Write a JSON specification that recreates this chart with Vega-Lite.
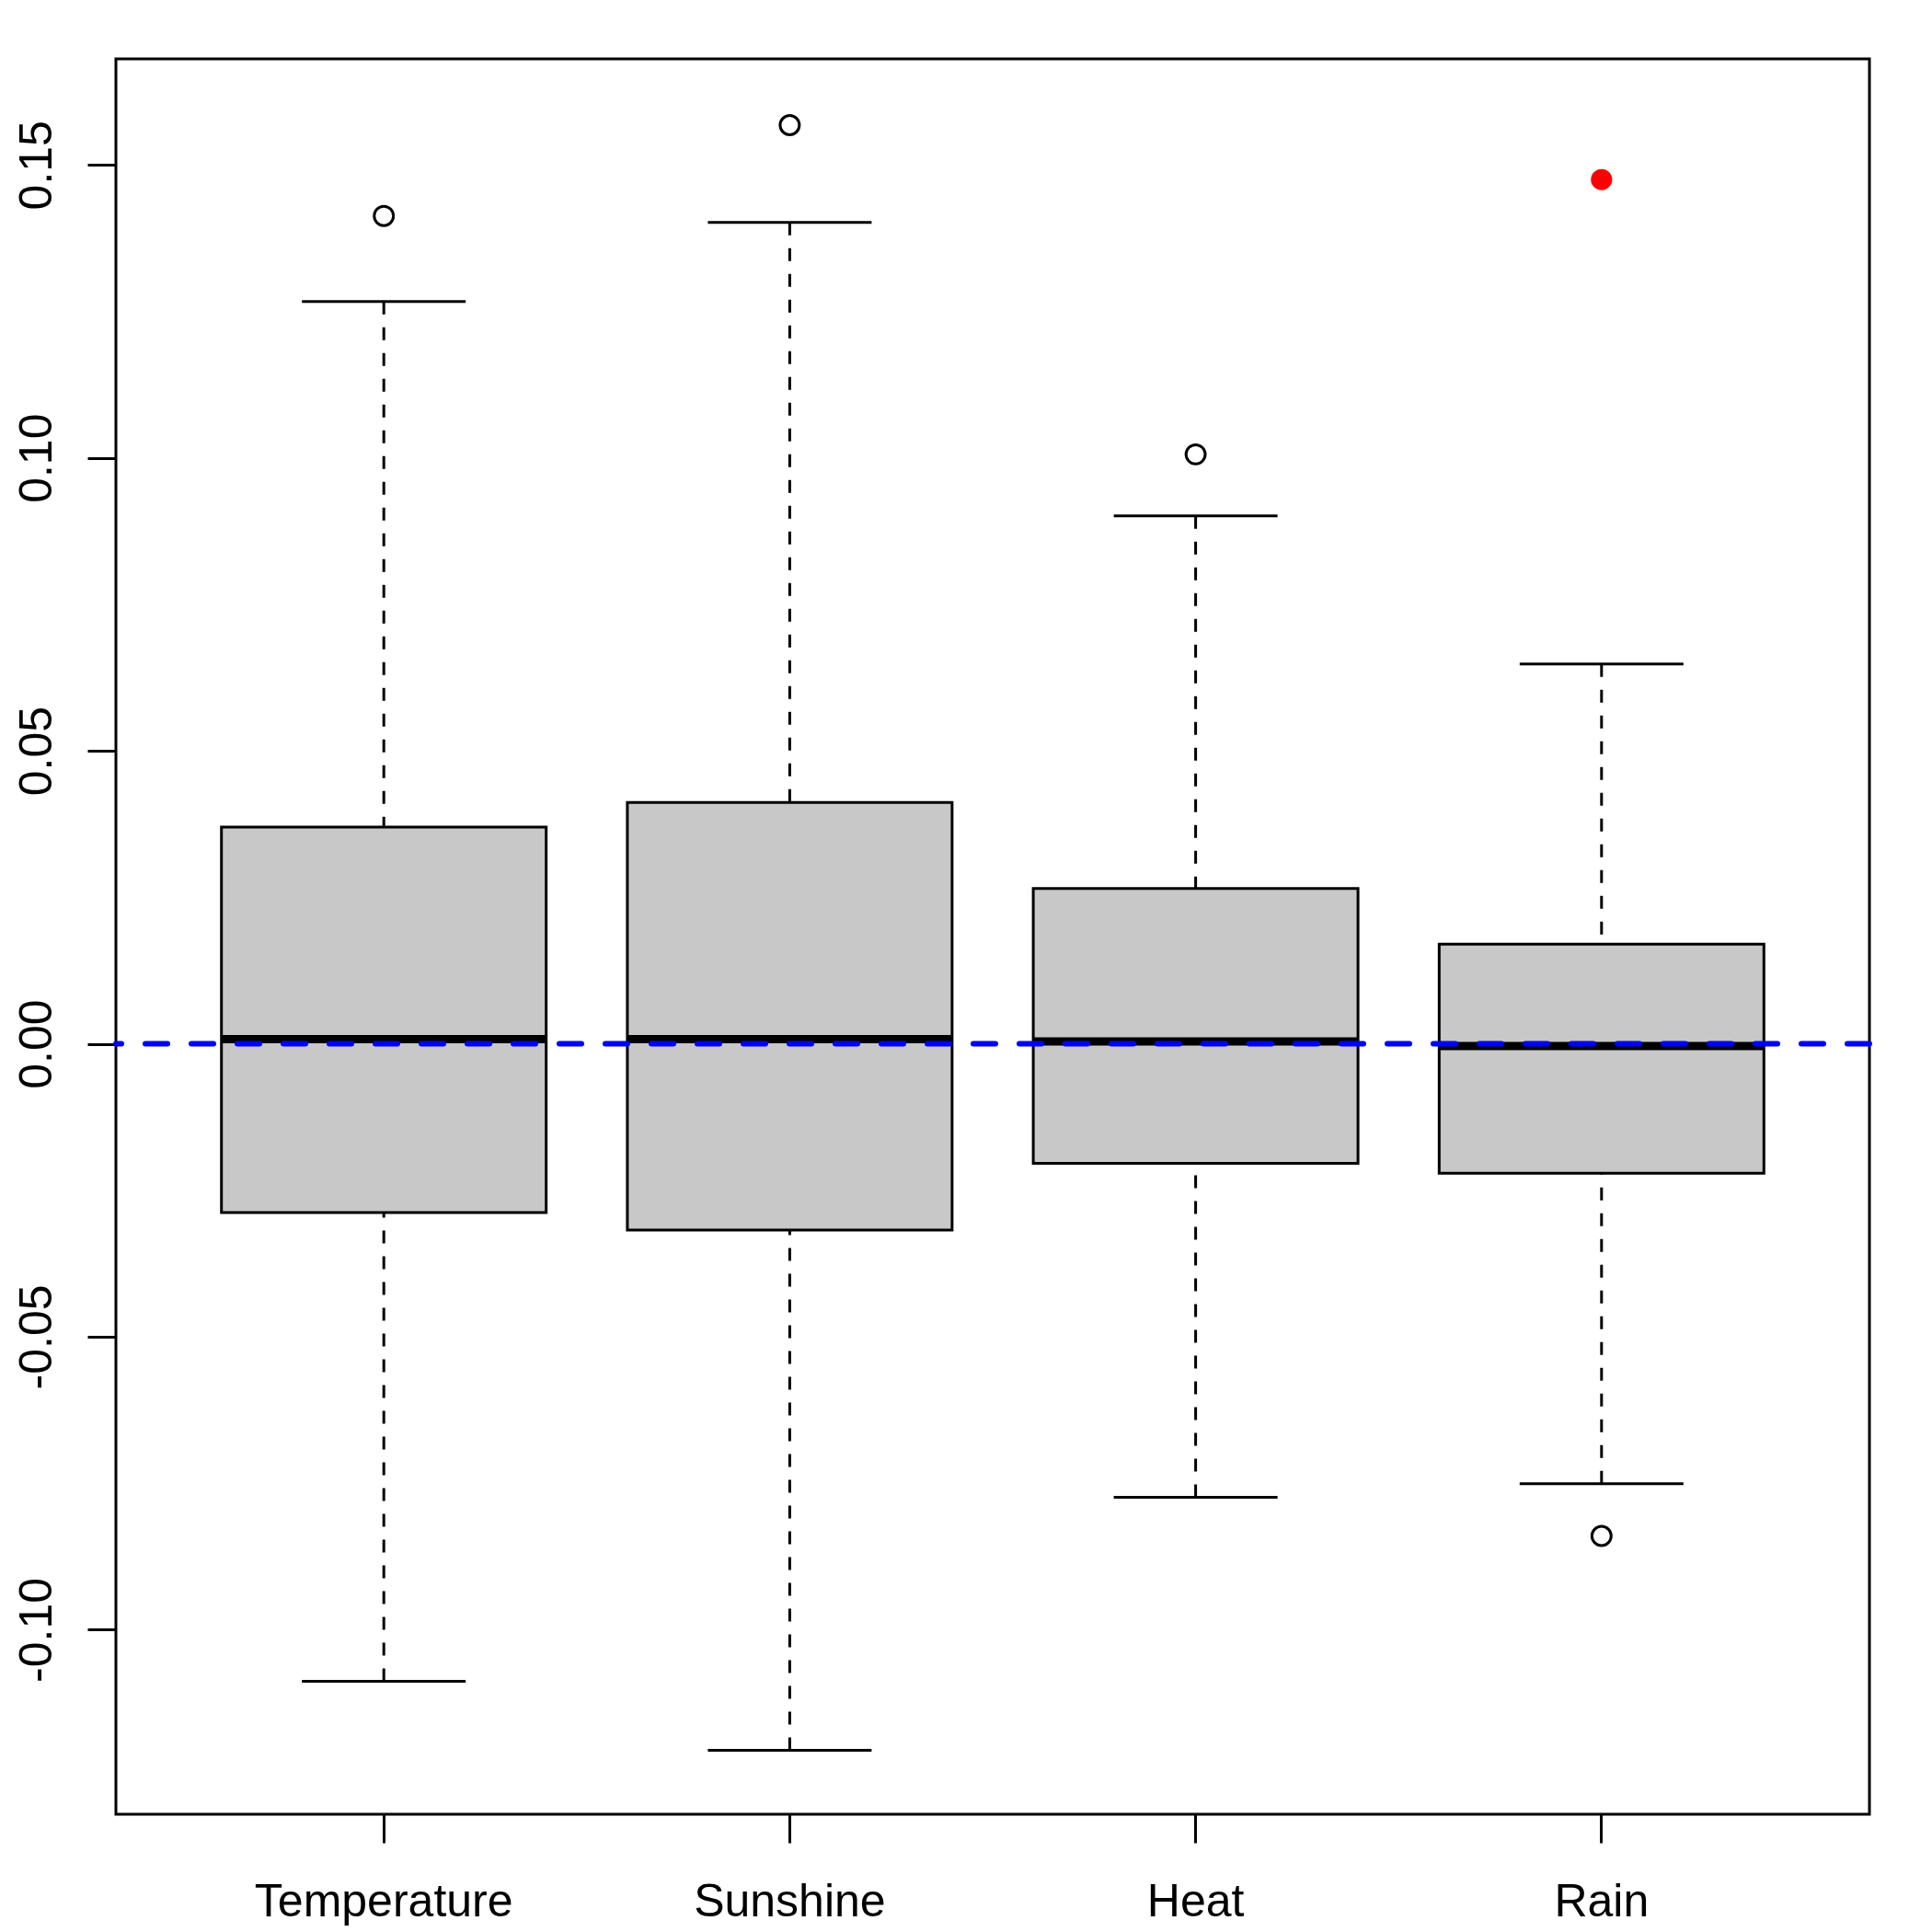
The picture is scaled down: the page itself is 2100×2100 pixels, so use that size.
{
  "$schema": "https://vega.github.io/schema/vega-lite/v6.json",
  "width": 1906,
  "height": 1908,
  "autosize": {"type": "none"},
  "padding": {"left": 126, "top": 64, "right": 68, "bottom": 128},
  "background": "white",
  "config": {
    "view": {"stroke": "black", "strokeWidth": 3},
    "axis": {
      "labelFont": "Liberation Sans",
      "labelFontSize": 50,
      "labelColor": "black",
      "labelLimit": 0,
      "tickColor": "black",
      "tickWidth": 3,
      "tickSize": 31,
      "domain": false,
      "grid": false,
      "title": null
    }
  },
  "datasets": {
    "boxes": [
      {"var": "Temperature", "lower": -0.1088, "q1": -0.0288, "median": 0.0008, "q3": 0.0370, "upper": 0.1267},
      {"var": "Sunshine", "lower": -0.1206, "q1": -0.0318, "median": 0.0008, "q3": 0.0412, "upper": 0.1402},
      {"var": "Heat", "lower": -0.0774, "q1": -0.0204, "median": 0.0004, "q3": 0.0265, "upper": 0.0901},
      {"var": "Rain", "lower": -0.0751, "q1": -0.0221, "median": -0.0004, "q3": 0.0170, "upper": 0.0648}
    ],
    "outliers": [
      {"var": "Temperature", "value": 0.1413, "flagged": "no"},
      {"var": "Sunshine", "value": 0.1568, "flagged": "no"},
      {"var": "Heat", "value": 0.1006, "flagged": "no"},
      {"var": "Rain", "value": -0.0840, "flagged": "no"},
      {"var": "Rain", "value": 0.1475, "flagged": "yes"}
    ]
  },
  "encoding": {
    "x": {
      "field": "var",
      "type": "nominal",
      "sort": ["Temperature", "Sunshine", "Heat", "Rain"],
      "scale": {"type": "band", "domain": ["Temperature", "Sunshine", "Heat", "Rain"], "paddingInner": 0, "paddingOuter": 0.16},
      "axis": {"labelAngle": 0, "labelPadding": 79, "labelBaseline": "alphabetic", "labelAlign": "center"}
    }
  },
  "layer": [
    {
      "data": {"name": "boxes"},
      "mark": {"type": "rule", "color": "black", "strokeWidth": 3, "strokeDash": [14, 14], "opacity": 1},
      "encoding": {
        "y": {"field": "upper", "type": "quantitative",
          "scale": {"domain": [-0.1315, 0.1681], "nice": false, "zero": false},
          "axis": {"values": [-0.1, -0.05, 0, 0.05, 0.1, 0.15], "labelExpr": "replace(format(datum.value, '.2f'), '\u2212', '-')", "labelAngle": -90, "labelAlign": "center", "labelBaseline": "alphabetic", "labelPadding": 40}},
        "y2": {"field": "q3"}
      }
    },
    {
      "data": {"name": "boxes"},
      "mark": {"type": "rule", "color": "black", "strokeWidth": 3, "strokeDash": [14, 14], "opacity": 1},
      "encoding": {
        "y": {"field": "lower", "type": "quantitative"},
        "y2": {"field": "q1"}
      }
    },
    {
      "data": {"name": "boxes"},
      "mark": {"type": "tick", "color": "black", "opacity": 1, "size": 178, "thickness": 3, "orient": "horizontal"},
      "encoding": {"y": {"field": "upper", "type": "quantitative"}}
    },
    {
      "data": {"name": "boxes"},
      "mark": {"type": "tick", "color": "black", "opacity": 1, "size": 178, "thickness": 3, "orient": "horizontal"},
      "encoding": {"y": {"field": "lower", "type": "quantitative"}}
    },
    {
      "data": {"name": "boxes"},
      "mark": {"type": "bar", "fill": "#c8c8c8", "stroke": "black", "strokeWidth": 3, "opacity": 1, "width": {"band": 0.8}},
      "encoding": {
        "y": {"field": "q1", "type": "quantitative"},
        "y2": {"field": "q3"}
      }
    },
    {
      "data": {"name": "boxes"},
      "mark": {"type": "tick", "color": "black", "opacity": 1, "size": 353, "thickness": 9, "orient": "horizontal"},
      "encoding": {"y": {"field": "median", "type": "quantitative"}}
    },
    {
      "data": {"name": "outliers"},
      "transform": [{"filter": "datum.flagged == 'no'"}],
      "mark": {"type": "point", "shape": "circle", "filled": false, "stroke": "black", "opacity": 1, "strokeWidth": 3, "size": 437},
      "encoding": {"y": {"field": "value", "type": "quantitative"}}
    },
    {
      "data": {"name": "outliers"},
      "transform": [{"filter": "datum.flagged == 'yes'"}],
      "mark": {"type": "point", "shape": "circle", "filled": true, "fill": "#ff0000", "opacity": 1, "strokeWidth": 0, "size": 531},
      "encoding": {"y": {"field": "value", "type": "quantitative"}}
    },
    {
      "data": {"values": [{"ref": 0}]},
      "mark": {"type": "rule", "color": "#0000ff", "opacity": 1, "strokeWidth": 6, "strokeDash": [24, 26], "strokeCap": "round"},
      "encoding": {"y": {"field": "ref", "type": "quantitative"}, "x": null}
    }
  ]
}
